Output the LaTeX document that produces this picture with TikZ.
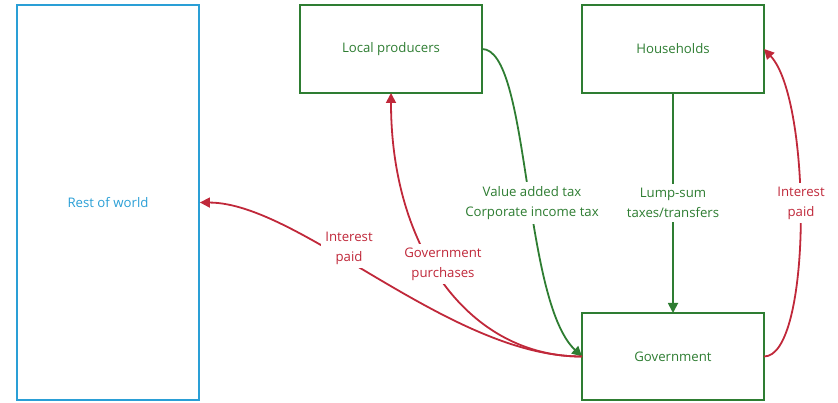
\documentclass[tikz,border=0pt]{standalone}
\usepackage{fontspec}
\setmainfont{Open Sans}
\usetikzlibrary{arrows.meta}
\definecolor{sectgreen}{HTML}{2E7D32}
\definecolor{flowred}{HTML}{C0283A}
\definecolor{worldblue}{HTML}{2A9FD6}

\begin{document}
\begin{tikzpicture}[x=1pt,y=-1pt,
	sector/.style={rectangle,draw=sectgreen,text=sectgreen,line width=1.8pt,minimum width=182pt,minimum height=88pt,outer sep=0pt},
	flow/.style={line width=1.8pt,-{Triangle[length=10pt,width=10pt]}},
	flowlabel/.style={fill=white,align=center,inner sep=4pt,font=\fontsize{13.2}{20}\selectfont}]

	\useasboundingbox (0,0) rectangle (838,403);
	\tikzset{every node/.append style={font=\fontsize{13.2}{20}\selectfont}}

	\node[rectangle,draw=worldblue,text=worldblue,line width=1.8pt,minimum width=182pt,minimum height=395pt] (world) at (108,202.5) {Rest of world};
	\node[sector] (producers) at (391,49) {Local producers};
	\node[sector] (households) at (673,49) {Households};
	\node[sector,minimum height=87pt] (government) at (673,356.5) {Government};

	% taxes
	\draw[flow,sectgreen] (producers.east) .. controls (530,49) and (522,300) .. (government.west);
	\draw[flow,sectgreen] (households.south) -- (government.north);

	% payments
	\draw[flow,flowred] (government.west) .. controls (470,357) and (391,250) .. (producers.south);
	\draw[flow,flowred] (government.west) .. controls (450,357) and (300,203) .. (world.east);
	\draw[flow,flowred] (government.east) .. controls (812,357) and (812,100) .. (households.east);

	\node[flowlabel,text=sectgreen] (vat) at (532,203) {Value added tax\\Corporate income tax};
	\node[flowlabel,text=sectgreen] (lumpsum) at (673,203) {Lump-sum\\taxes/transfers};
	\node[flowlabel,text=flowred] (hhinterest) at (801,203) {Interest\\paid};
	\node[flowlabel,text=flowred] (rowinterest) at (349,248) {Interest\\paid};
	\node[flowlabel,text=flowred] (purchases) at (443,264) {Government\\purchases};

\end{tikzpicture}
\end{document}
